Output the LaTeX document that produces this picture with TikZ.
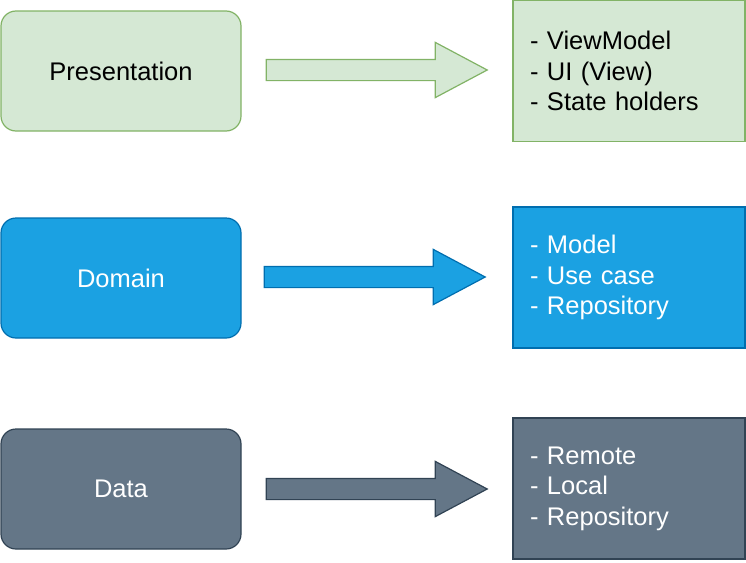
\documentclass[tikz,border=0pt]{standalone}
\usepackage{fontspec}
\setmainfont{Liberation Sans}
\usepackage{tikz}
\usetikzlibrary{shapes,shapes.arrows,positioning,calc}
\usepackage{xcolor}
\definecolor{lyrgreen}{RGB}{213,232,212}
\definecolor{lyrgreenline}{RGB}{130,179,102}
\definecolor{lyrblue}{RGB}{27,161,226}
\definecolor{lyrblueline}{RGB}{0,110,175}
\definecolor{lyrgrey}{RGB}{100,118,135}
\definecolor{lyrgreyline}{RGB}{49,67,84}
\tikzstyle{layer} = [rectangle, rounded corners=15pt, minimum width=240pt, minimum height=120pt, text centered, line width=1.2pt]
\tikzstyle{parts} = [rectangle, minimum width=232pt, minimum height=141pt, text width=198pt, inner xsep=17pt, align=left, line width=1.2pt]
\tikzstyle{bigarrow} = [single arrow, anchor=tail, minimum height=221pt, inner sep=10pt, single arrow head extend=17pt, single arrow tip angle=56, line width=1.2pt]

\begin{document}
\begin{tikzpicture}[x=1pt, y=-1pt, font=\fontsize{25.5}{30.5}\selectfont]
\useasboundingbox (0,0) rectangle (746,562);
% presentation layer
\node[layer, draw=lyrgreenline, fill=lyrgreen] (pres) at (121,71) {Presentation};
\node[parts, draw=lyrgreenline, fill=lyrgreen] (presp) at (629,71) {- ViewModel\\- UI (View)\\- State holders};
\node[bigarrow, draw=lyrgreenline, fill=lyrgreen] (presa) at ($(pres.east)+(24,-1)$) {};
% domain layer
\node[layer, draw=lyrblueline, fill=lyrblue, text=white] (dom) at (121,278) {Domain};
\node[parts, draw=lyrblueline, fill=lyrblue, text=white] (domp) at (629,277.5) {- Model\\- Use case\\- Repository};
\node[bigarrow, draw=lyrblueline, fill=lyrblue] (doma) at ($(dom.east)+(22,-1)$) {};
% data layer
\node[layer, draw=lyrgreyline, fill=lyrgrey, text=white] (dat) at (121,489) {Data};
\node[parts, draw=lyrgreyline, fill=lyrgrey, text=white] (datp) at (629,488.5) {- Remote\\- Local\\- Repository};
\node[bigarrow, draw=lyrgreyline, fill=lyrgrey] (data) at ($(dat.east)+(24,0)$) {};
\end{tikzpicture}
\end{document}
